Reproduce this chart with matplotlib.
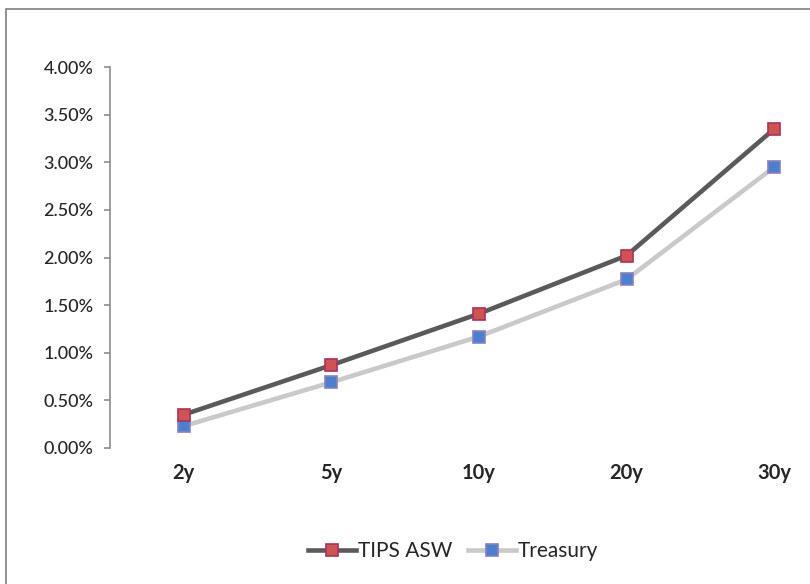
import matplotlib
matplotlib.use("Agg")
import matplotlib.pyplot as plt
from matplotlib.patches import Rectangle
from matplotlib.ticker import FuncFormatter

plt.rcParams['font.family'] = ['Lato', 'DejaVu Sans']

# data (percent)
tenors = ["2y", "5y", "10y", "20y", "30y"]
tips_asw = [0.35, 0.87, 1.41, 2.02, 3.35]
treasury = [0.23, 0.69, 1.17, 1.77, 2.95]

fig = plt.figure(figsize=(8.1, 5.84), dpi=100)

# outer chart frame (right and bottom run off the image)
fig.patches.append(Rectangle((6 / 810, -0.1), 1.2, (584 - 9) / 584 + 0.1,
                             transform=fig.transFigure, fill=False,
                             edgecolor="#7f7f7f", linewidth=1.2))

ax = fig.add_axes([110 / 810, 136 / 584, 738 / 810, 381 / 584])
x = range(len(tenors))

ax.plot(x, treasury, color="#c9c9c9", linewidth=3.3, marker="s", markersize=9,
        markerfacecolor="#4a80cf", markeredgecolor="#8b7fc0", markeredgewidth=1.2,
        label="Treasury", zorder=3)
ax.plot(x, tips_asw, color="#5a5a5a", linewidth=3.3, marker="s", markersize=9,
        markerfacecolor="#d1524f", markeredgecolor="#a8325e", markeredgewidth=1.2,
        label="TIPS ASW", zorder=4)

ax.set_xlim(-0.5, len(tenors) - 0.5)
ax.set_ylim(0, 4.0)
ax.set_yticks([i * 0.5 for i in range(9)])
ax.yaxis.set_major_formatter(FuncFormatter(lambda v, p: "{:.2f}%".format(v)))
ax.set_xticks(list(x))
ax.set_xticklabels(tenors, fontsize=14.5, fontweight="bold", color="#262626")
for t in ax.get_yticklabels():
    t.set_fontweight("medium")

for s in ["top", "right", "bottom"]:
    ax.spines[s].set_visible(False)
ax.spines["left"].set_color("#8c8c8c")
ax.spines["left"].set_linewidth(1.2)
ax.tick_params(axis="y", length=4, width=1.2, color="#8c8c8c", pad=8,
               labelsize=13, labelcolor="#262626")
ax.tick_params(axis="x", length=0, pad=11)

handles, labels = ax.get_legend_handles_labels()
leg = fig.legend(handles[::-1], labels[::-1], loc="center",
                 bbox_to_anchor=(453 / 810, (584 - 551) / 584), ncol=2,
                 frameon=False, fontsize=15, handlelength=2.3,
                 columnspacing=0.75, handletextpad=0.1)
for t in leg.get_texts():
    t.set_color("#262626")

fig.savefig("out.png", dpi=100)
